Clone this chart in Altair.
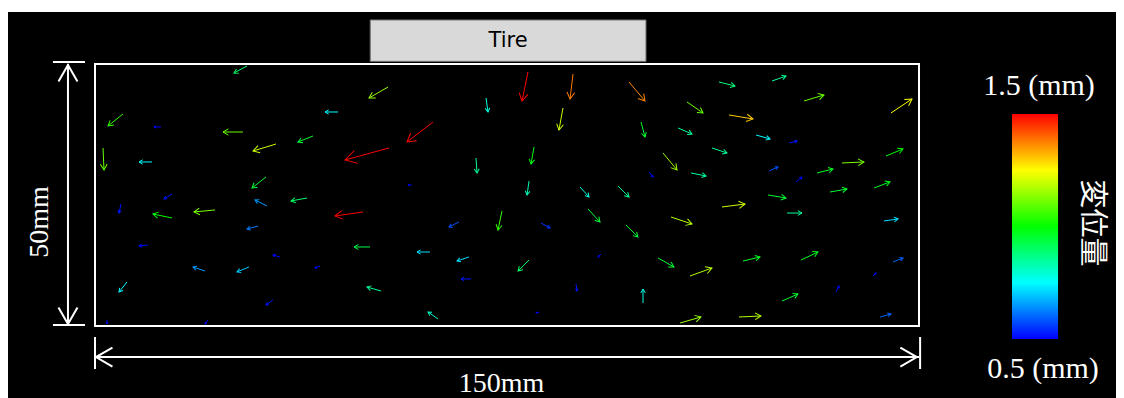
import altair as alt
import pandas as pd

# Displacement vectors (positions and drawn vector components in mm, magnitude in mm)
ax = [27.67, 5.10, 12.01, 26.94, 44.24, 39.68, 32.95, 53.52, 1.46, 10.38,
      31.13, 53.34, 71.18, 78.82, 87.02, 97.21, 85.19, 61.53, 69.36, 79.92,
      57.71, 79.01, 88.29, 95.21, 113.59, 123.24, 129.07, 144.90, 107.77, 115.41,
      99.39, 106.13, 120.33, 126.34, 112.32, 143.99, 135.98, 103.40, 100.85, 108.50,
      122.70, 131.43, 127.61, 141.81, 133.80, 14.02, 38.59, 4.73, 31.31, 14.02,
      21.84, 48.79, 29.67, 9.65, 50.06, 33.68, 40.96, 20.02, 28.03, 5.83,
      52.06, 32.40, 2.18, 20.57, 74.09, 66.26, 81.19, 89.75, 96.66, 60.98,
      68.08, 79.01, 92.11, 68.45, 87.56, 62.44, 80.83, 122.51, 114.14, 104.86,
      125.97, 143.63, 102.49, 117.96, 128.52, 145.27, 108.31, 141.63, 99.76, 134.89,
      125.06, 106.49, 117.23, 142.90]
ay = [49.62, 40.46, 37.98, 37.02, 40.84, 36.26, 34.73, 33.97, 33.97, 31.30,
      28.44, 45.61, 43.51, 48.47, 48.09, 46.56, 41.60, 38.93, 32.06, 34.16,
      26.91, 27.67, 26.53, 26.72, 46.56, 46.75, 42.94, 40.65, 42.75, 40.27,
      38.93, 37.79, 36.45, 34.92, 33.97, 32.44, 31.11, 33.01, 29.39, 29.20,
      29.58, 29.20, 27.48, 26.34, 25.57, 25.19, 24.43, 23.28, 22.90, 20.61,
      22.14, 21.76, 19.08, 15.46, 15.08, 13.17, 11.45, 10.50, 11.26, 8.40,
      6.68, 4.96, 1.15, 1.15, 21.95, 19.85, 19.66, 22.33, 19.27, 14.12,
      13.17, 12.59, 13.74, 8.97, 8.02, 1.34, 2.67, 25.00, 22.71, 20.80,
      21.56, 20.04, 12.98, 12.40, 12.59, 12.21, 9.54, 9.54, 4.39, 6.49,
      4.77, 0.57, 1.72, 1.72]
au = [-2.37, -2.73, -1.27, -3.64, -2.37, -2.73, -4.19, -8.01, 0.18, -2.37,
      -2.55, -3.46, 0.36, -1.09, -0.55, 2.91, -0.73, -4.73, 0.18, -0.55,
      -0.73, -0.36, 1.64, 2.00, 2.91, 2.55, 3.64, 3.82, 2.91, 4.37,
      0.73, 2.55, 2.55, 1.46, 2.73, 3.09, 4.00, 2.55, 0.73, 2.73,
      1.64, 2.91, 1.09, 2.91, 3.09, -1.46, -2.91, -0.36, -2.18, -3.46,
      -3.82, -5.10, -2.00, -1.64, -2.91, -1.27, -0.91, -2.18, -2.18, -1.46,
      -2.55, -1.27, 0.00, -0.55, -0.73, -1.82, 1.64, 2.18, 2.18, -2.37,
      -2.18, -2.00, -0.55, -1.82, 0.18, -1.82, -0.55, 3.28, 4.19, 3.82,
      2.73, 2.55, 2.91, 3.09, 3.09, 1.82, 4.00, 0.55, 0.00, 0.55,
      2.91, 3.82, 4.00, 2.00]
av = [-1.34, -2.29, 0.00, 0.00, 0.00, -1.15, -1.34, -2.29, -4.20, 0.00,
      -2.10, -2.10, -2.67, -5.53, -4.77, -3.63, -4.20, -3.82, -2.86, -3.24,
      0.00, -2.67, -1.91, -2.10, -0.76, 0.95, 1.15, 2.67, -2.10, -0.76,
      -2.86, -1.15, -0.76, 0.38, -0.95, 1.34, 0.19, -3.24, -0.95, -0.57,
      0.76, 0.76, 0.95, 1.15, 0.57, -0.95, -0.57, -1.72, 1.15, 0.76,
      -0.38, -0.76, -0.57, -0.19, 0.00, 0.38, -0.38, 0.76, -0.95, -1.91,
      0.76, -0.95, -0.76, -0.76, -3.63, -0.95, -0.95, -2.48, -2.29, 0.00,
      -0.76, -2.10, -0.57, 0.00, -1.34, 1.34, -0.19, -0.57, 0.57, -1.34,
      0.00, 0.38, -1.72, 0.76, 1.53, 0.76, 1.53, 0.57, 2.67, 1.15,
      1.34, 1.15, 0.19, 0.57]
am = [0.90, 1.05, 0.50, 1.10, 0.75, 0.95, 1.20, 1.50, 1.10, 0.75,
      0.95, 1.15, 0.78, 1.50, 1.38, 1.37, 1.20, 1.50, 0.85, 0.98,
      0.50, 0.82, 0.78, 0.85, 0.88, 0.85, 1.10, 1.25, 1.10, 1.30,
      0.95, 0.85, 0.75, 0.52, 0.85, 1.00, 1.12, 1.15, 0.50, 0.85,
      0.58, 0.97, 0.50, 0.97, 0.95, 0.52, 0.90, 0.52, 0.65, 1.00,
      1.12, 1.50, 0.62, 0.50, 0.93, 0.50, 0.50, 0.65, 0.70, 0.75,
      0.85, 0.52, 0.50, 0.50, 1.05, 0.58, 0.55, 0.95, 0.95, 0.72,
      0.72, 0.90, 0.50, 0.52, 0.52, 0.80, 0.50, 0.95, 1.20, 1.18,
      0.85, 0.72, 0.95, 0.97, 0.97, 0.60, 1.18, 0.50, 0.77, 0.50,
      0.95, 1.15, 1.18, 0.60]

# Colour ramp (blue -> cyan -> green -> yellow -> red)
ramp_values = [0.5, 0.75, 1.0, 1.25, 1.5]
ramp_colors = ["#0000ff", "#00ffff", "#00ff00", "#ffff00", "#ff0000"]
bar_min_label = "0.5 (mm)"
bar_max_label = "1.5 (mm)"
bar_title = "変位量"

# Specimen: 150 mm x 50 mm, tire contact region
specimen_w = 150
specimen_h = 50
tire_span = [50.1, 100.3]
tire_height = [50.5, 58.4]

SERIF = "Liberation Serif"
PXX = 824 / 150  # px per mm horizontally
PXY = 262 / 50   # px per mm vertically

X = alt.Scale(domain=[-15.838, 185.86], nice=False, zero=False)
Y = alt.Scale(domain=[-13.74, 59.92], nice=False, zero=False)
CS = alt.Scale(domain=ramp_values, range=ramp_colors, interpolate="rgb")
ARROW = "M -0.5 0.866 L 0 0 L 0.5 0.866"

df = pd.DataFrame({"x": ax, "y": ay, "u": au, "v": av, "m": am})

base = alt.Chart(df).transform_calculate(
    x2="datum.x + datum.u",
    y2="datum.y + datum.v",
    L=f"sqrt(pow(datum.u*{PXX},2) + pow(datum.v*{PXY},2))",
).transform_calculate(
    ang=f"(atan2(datum.u*{PXX}, datum.v*{PXY})*180/PI + 360) % 360",
    hs="4*pow(0.28*datum.L + 0.6, 2)",
)

shafts = base.mark_rule(strokeWidth=1.0).encode(
    x=alt.X("x:Q", scale=X, axis=None),
    y=alt.Y("y:Q", scale=Y, axis=None),
    x2="x2:Q",
    y2="y2:Q",
    color=alt.Color("m:Q", scale=CS, legend=None),
)
heads = base.mark_point(shape=ARROW, filled=False, strokeWidth=1.0, opacity=1).encode(
    x=alt.X("x2:Q", scale=X, axis=None),
    y=alt.Y("y2:Q", scale=Y, axis=None),
    angle=alt.Angle("ang:Q", scale=None),
    size=alt.Size("hs:Q", scale=None),
    color=alt.Color("m:Q", scale=CS, legend=None),
)

# Specimen frame
frame = alt.Chart(pd.DataFrame({"a": [0], "b": [specimen_w], "c": [0], "d": [specimen_h]})).mark_rect(
    fill="transparent", stroke="white", strokeWidth=2
).encode(
    x=alt.X("a:Q", scale=X, axis=None), x2="b:Q",
    y=alt.Y("c:Q", scale=Y, axis=None), y2="d:Q",
)

# Tire box
tire_df = pd.DataFrame({"a": [tire_span[0]], "b": [tire_span[1]], "c": [tire_height[0]],
                        "d": [tire_height[1]], "t": ["Tire"],
                        "cx": [(tire_span[0] + tire_span[1]) / 2],
                        "cy": [(tire_height[0] + tire_height[1]) / 2]})
tire_box = alt.Chart(tire_df).mark_rect(fill="#d9d9d9", stroke="#707070", strokeWidth=1).encode(
    x=alt.X("a:Q", scale=X, axis=None), x2="b:Q",
    y=alt.Y("c:Q", scale=Y, axis=None), y2="d:Q",
)
tire_text = alt.Chart(tire_df).mark_text(font="DejaVu Sans", fontSize=21, color="black",
                                         baseline="middle", align="center").encode(
    x=alt.X("cx:Q", scale=X, axis=None), y=alt.Y("cy:Q", scale=Y, axis=None), text="t:N"
)

# Dimension lines (segments in mm)
seg_df = pd.DataFrame({
    "a": [-4.92, -7.65, -7.65, 0, 0, 150.2],
    "b": [-4.92, -1.82, -1.82, 150, 0, 150.2],
    "c": [0, 50.38, 0.19, -5.92, -2.10, -2.10],
    "d": [50, 50.38, 0.19, -5.92, -8.21, -8.21],
})
segs = alt.Chart(seg_df).mark_rule(color="white", strokeWidth=2).encode(
    x=alt.X("a:Q", scale=X, axis=None), x2="b:Q",
    y=alt.Y("c:Q", scale=Y, axis=None), y2="d:Q",
)
tip_df = pd.DataFrame({
    "a": [-4.92, -4.92, 0.18, 149.6],
    "c": [49.8, 0.4, -5.92, -5.92],
    "ang": [0, 180, 270, 90],
})
tips = alt.Chart(tip_df).mark_point(shape=ARROW, filled=False, strokeWidth=2, opacity=1,
                                    color="white", size=1444).encode(
    x=alt.X("a:Q", scale=X, axis=None), y=alt.Y("c:Q", scale=Y, axis=None),
    angle=alt.Angle("ang:Q", scale=None),
)

# Colour bar
bar = alt.Chart(pd.DataFrame({"a": [166.93], "b": [175.31], "c": [-2.48], "d": [40.46]})).mark_rect(
    color=alt.LinearGradient(
        gradient="linear", x1=0, x2=0, y1=1, y2=0,
        stops=[alt.GradientStop(offset=i / 4, color=c) for i, c in enumerate(ramp_colors)],
    )
).encode(
    x=alt.X("a:Q", scale=X, axis=None), x2="b:Q",
    y=alt.Y("c:Q", scale=Y, axis=None), y2="d:Q",
)

dim_label = alt.Chart(pd.DataFrame({"t": ["150mm"], "a": [74.0], "c": [-11.07]})).mark_text(
    font=SERIF, fontSize=28, color="white", align="center", baseline="middle"
).encode(x=alt.X("a:Q", scale=X, axis=None), y=alt.Y("c:Q", scale=Y, axis=None), text="t:N")

lab_df = pd.DataFrame({
    "t": [bar_max_label, bar_min_label],
    "a": [171.85, 172.57],
    "c": [45.80, -8.21],
})
labels = alt.Chart(lab_df).mark_text(font=SERIF, fontSize=30, color="white",
                                     align="center", baseline="middle").encode(
    x=alt.X("a:Q", scale=X, axis=None), y=alt.Y("c:Q", scale=Y, axis=None), text="t:N"
)
vlab = alt.Chart(pd.DataFrame({"t": ["50mm"], "a": [-10.0], "c": [19.85]})).mark_text(
    font=SERIF, fontSize=28, color="white", align="center", baseline="middle", angle=270
).encode(x=alt.X("a:Q", scale=X, axis=None), y=alt.Y("c:Q", scale=Y, axis=None), text="t:N")
title = alt.Chart(pd.DataFrame({"t": [bar_title], "a": [181.5], "c": [19.66]})).mark_text(
    font="Noto Sans CJK JP", fontSize=29, color="white", align="center", baseline="middle", angle=90
).encode(x=alt.X("a:Q", scale=X, axis=None), y=alt.Y("c:Q", scale=Y, axis=None), text="t:N")

chart = alt.layer(
    frame, tire_box, tire_text, segs, tips, shafts, heads, bar, dim_label, labels, vlab, title
).properties(
    width=1108, height=386,
    autosize=alt.AutoSizeParams(type="none"),
    padding={"left": 0, "top": 4, "right": 0, "bottom": 0},
    background="white",
).configure_view(fill="black", stroke=None)

chart.save("out.html", embed_options={"renderer": "svg", "actions": False})
